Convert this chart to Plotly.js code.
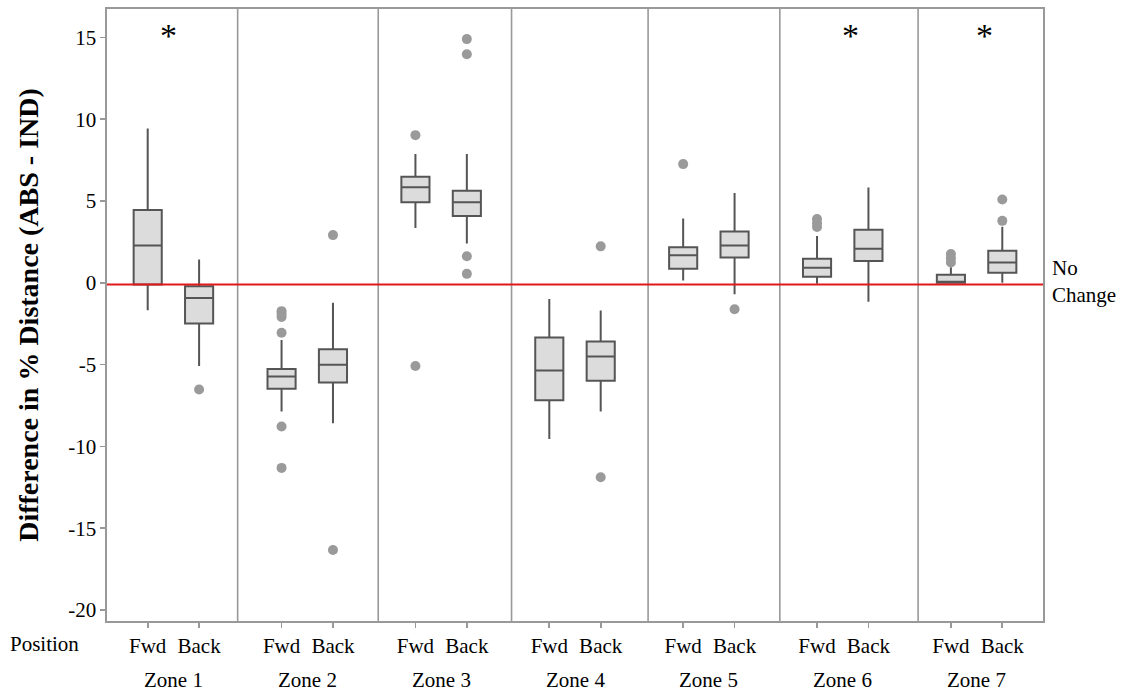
<!DOCTYPE html>
<html>
<head>
<meta charset="utf-8">
<script src="https://cdn.plot.ly/plotly-3.0.1.min.js"></script>
<style>html,body{margin:0;padding:0;background:#fff;}#chart{width:1129px;height:693px;}</style>
</head>
<body>
<div id="chart"></div>
<script>
// ---- data ----
const zones = ["Zone 1", "Zone 2", "Zone 3", "Zone 4", "Zone 5", "Zone 6", "Zone 7"];
const positionLabels = ["Fwd", "Back"];

// Forward position box statistics per zone
const fwdLowerFence = [-1.67, -7.87, 3.36, -9.54, 0.15, -0.06, 0.00];
const fwdQ1         = [-0.10, -6.48, 4.92, -7.17, 0.86, 0.37, 0.00];
const fwdMedian     = [ 2.29, -5.73, 5.85, -5.36, 1.69, 0.92, 0.02];
const fwdQ3         = [ 4.45, -5.26, 6.48, -3.34, 2.17, 1.47, 0.50];
const fwdUpperFence = [ 9.44, -3.50, 7.87, -0.98, 3.94, 2.86, 0.95];

// Back position box statistics per zone
const backLowerFence = [-5.09, -8.58, 2.41, -7.87, -0.69, -1.16, 0.00];
const backQ1         = [-2.48, -6.09, 4.08, -5.99,  1.55,  1.33, 0.61];
const backMedian     = [-0.92, -5.01, 4.92, -4.50,  2.29,  2.08, 1.25];
const backQ3         = [-0.20, -4.06, 5.63, -3.58,  3.14,  3.24, 1.96];
const backUpperFence = [ 1.43, -1.22, 7.87, -1.69,  5.50,  5.83, 3.43];

// Outliers per zone
const fwdOutliers  = [[], [-1.73, -1.90, -2.08, -3.05, -8.78, -11.31], [9.03, -5.08], [], [7.26], [3.90, 3.65, 3.41], [1.76, 1.50, 1.25]];
const backOutliers = [[-6.52], [2.92, -16.33], [14.90, 13.97, 1.63, 0.55], [2.23, -11.88], [-1.61], [], [5.10, 3.79]];

// Zones marked significant with an asterisk
const significant = [true, false, false, false, false, true, true];

const yTicks = [-20, -15, -10, -5, 0, 5, 10, 15];
const noChangeLevel = -0.1;

// ---- layout constants ----
const posOffset = 0.192;   // half distance between Fwd and Back within a zone
const boxWidth = 0.21;
const dividerX = [0.48, 1.53, 2.526, 3.546, 4.53, 5.563];
const starShift = [-0.04, 0, 0, 0, 0, 0.06, 0.06];
const FONT = "Liberation Serif";
const FS = 21;

// ---- build traces ----
const bx = [], q1 = [], med = [], q3 = [], lo = [], hi = [];
const ox = [], oy = [];
const tickVals = [], tickText = [];
zones.forEach((z, i) => {
  const xf = i - posOffset, xb = i + posOffset;
  bx.push(xf, xb);
  q1.push(fwdQ1[i], backQ1[i]);
  med.push(fwdMedian[i], backMedian[i]);
  q3.push(fwdQ3[i], backQ3[i]);
  lo.push(fwdLowerFence[i], backLowerFence[i]);
  hi.push(fwdUpperFence[i], backUpperFence[i]);
  fwdOutliers[i].forEach(v => { ox.push(xf); oy.push(v); });
  backOutliers[i].forEach(v => { ox.push(xb); oy.push(v); });
  tickVals.push(xf, xb);
  tickText.push(positionLabels[0], positionLabels[1]);
});

const boxTrace = {
  type: "box",
  orientation: "v",
  x: bx, q1: q1, median: med, q3: q3, lowerfence: lo, upperfence: hi,
  width: boxWidth,
  whiskerwidth: 0,
  fillcolor: "#dcdcdc",
  line: { color: "#555555", width: 2 },
  hoverinfo: "y",
  showlegend: false
};
const outlierTrace = {
  type: "scatter", mode: "markers",
  x: ox, y: oy,
  marker: { size: 10, color: "#9a9a9a" },
  showlegend: false, hoverinfo: "y"
};

const shapes = [];
dividerX.forEach(x => shapes.push({
  type: "line", xref: "x", yref: "paper", x0: x, x1: x, y0: 0, y1: 1,
  line: { color: "#999999", width: 1.6 }, layer: "below"
}));
shapes.push({
  type: "line", xref: "paper", yref: "y", x0: 0, x1: 1, y0: noChangeLevel, y1: noChangeLevel,
  line: { color: "#e0191b", width: 2 }, layer: "above"
});

const annotations = [];
zones.forEach((z, i) => annotations.push({
  text: z, xref: "x", yref: "paper", x: i, y: -0.097, xanchor: "center", yanchor: "middle",
  showarrow: false, font: { family: FONT, size: FS, color: "#000" }
}));
significant.forEach((s, i) => { if (s) annotations.push({
  text: "*", xref: "x", yref: "y", x: i + starShift[i], y: 15.1, xanchor: "center", yanchor: "middle",
  showarrow: false, font: { family: FONT, size: 34, color: "#000" }
}); });
annotations.push({
  text: "Position", xref: "paper", yref: "paper", x: -0.1057, y: -0.038, xanchor: "left", yanchor: "middle",
  showarrow: false, font: { family: FONT, size: FS, color: "#000" }
});
annotations.push({
  text: "No<br>Change", xref: "paper", yref: "y", x: 1.008, y: 0.1, xanchor: "left", yanchor: "middle", align: "left",
  showarrow: false, font: { family: FONT, size: FS, color: "#000" }
});

const axisCommon = {
  showgrid: false, zeroline: false, showline: true, mirror: true,
  linecolor: "#999999", linewidth: 1.6,
  ticks: "outside", ticklen: 5, tickwidth: 1.6, tickcolor: "#999999",
  tickfont: { family: FONT, size: FS, color: "#000" }
};

const layout = {
  width: 1129, height: 693,
  margin: { l: 107, r: 86, t: 9, b: 72 },
  paper_bgcolor: "#ffffff", plot_bgcolor: "#ffffff",
  showlegend: false,
  font: { family: FONT, size: FS, color: "#000" },
  xaxis: Object.assign({}, axisCommon, {
    range: [-0.496, 6.496], tickmode: "array", tickvals: tickVals, ticktext: tickText
  }),
  yaxis: Object.assign({}, axisCommon, {
    range: [-20.67, 16.74], tickmode: "array", tickvals: yTicks, ticktext: yTicks.map(String),
    title: { text: "<b>Difference in % Distance (ABS - IND)</b>", font: { family: FONT, size: 28, color: "#000" }, standoff: 21 }
  }),
  shapes: shapes,
  annotations: annotations
};

Plotly.newPlot("chart", [boxTrace, outlierTrace], layout, { displayModeBar: false, staticPlot: true });
</script>
</body>
</html>
